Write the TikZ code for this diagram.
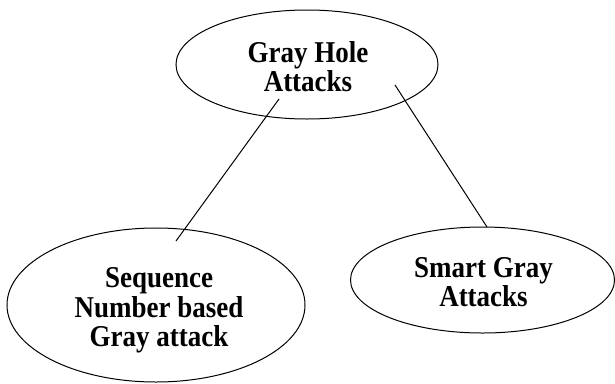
\documentclass[tikz,border=0pt]{standalone}
\usepackage{fontspec}
\setmainfont{Liberation Serif}
\usetikzlibrary{shapes.geometric,calc}
\newcommand{\tall}[1]{\scalebox{1}[1.12]{#1}}
\begin{document}
\begin{tikzpicture}[x=1pt,y=-1pt,
  oval/.style={draw=black, line width=1pt, ellipse, inner sep=0pt},
  label text/.style={inner sep=0pt, align=center,
    font=\bfseries\fontsize{27}{29.5}\selectfont},
  link/.style={draw=black, line width=1pt}]
\useasboundingbox (0,0) rectangle (615,383);
\node[oval, minimum width=262pt, minimum height=109pt] (top) at (307,64.5) {};
\node[oval, minimum width=298pt, minimum height=154pt] (seq) at (156,305) {};
\node[oval, minimum width=264pt, minimum height=106pt] (smart) at (482.5,280) {};
\node[label text] (toptext) at ($(top.center)+(1,2)$) {\tall{Gray Hole}\\\tall{Attacks}};
\node[label text] (seqtext) at ($(seq.center)+(3,5.5)$) {\tall{Sequence}\\\tall{Number based}\\\tall{Gray attack}};
\node[label text] (smarttext) at ($(smart.center)+(1,2.3)$) {\tall{Smart Gray}\\\tall{Attacks}};
\coordinate (t1) at ($(top.center)+(-28,34.5)$);
\coordinate (s1) at ($(seq.center)+(20,-64)$);
\coordinate (t2) at ($(top.center)+(88,20.5)$);
\coordinate (s2) at ($(smart.center)+(4.5,-53)$);
\draw[link] (t1) -- (s1);
\draw[link] (t2) -- (s2);
\end{tikzpicture}
\end{document}
